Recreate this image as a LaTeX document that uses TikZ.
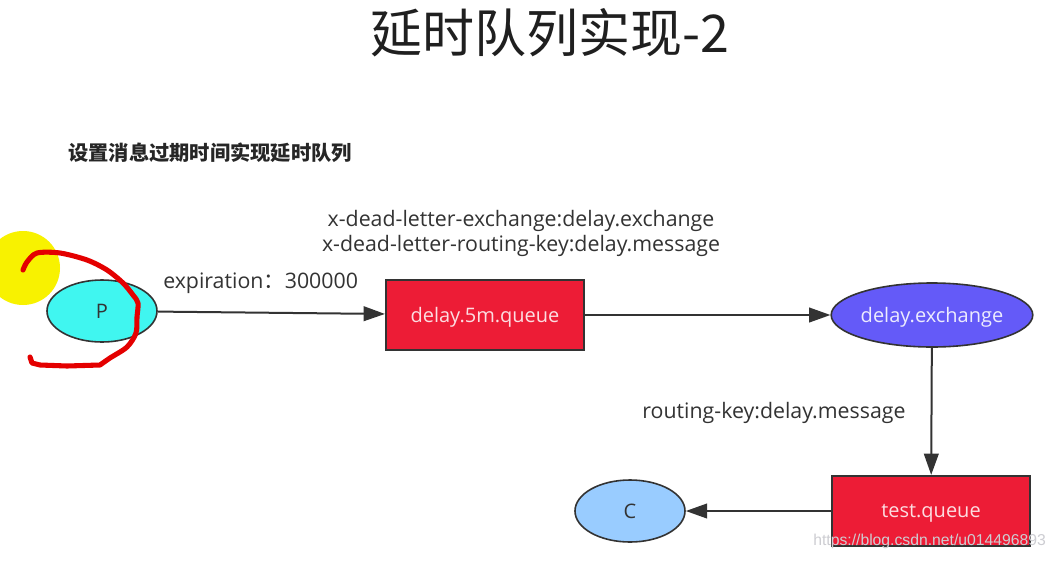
\documentclass[tikz,border=0pt]{standalone}
\usepackage{fontspec}
\setmainfont{Open Sans}
\newfontfamily\cjk{Noto Sans CJK SC}
\newfontfamily\wmfont{Liberation Sans}
\usetikzlibrary{shapes.geometric,arrows.meta}
\definecolor{qred}{RGB}{237,28,54}
\definecolor{exblue}{RGB}{100,90,248}
\definecolor{pcyan}{RGB}{64,246,240}
\definecolor{cblue}{RGB}{153,204,255}
\definecolor{edge}{RGB}{51,51,51}
\definecolor{txt}{RGB}{51,51,51}
\definecolor{hlyellow}{RGB}{248,242,0}
\definecolor{pen}{RGB}{228,0,0}
\definecolor{wm}{RGB}{205,205,210}
\tikzset{
  queuebox/.style={draw=edge, line width=1.6pt, fill=qred, rectangle,
    minimum width=148.5pt, minimum height=52.5pt, inner sep=0pt, text depth=0pt,
    text=white!85!qred, font=\fontsize{15}{18}\selectfont},
  ellnode/.style={draw=edge, line width=1.2pt, ellipse, inner sep=0pt, text depth=0pt,
    font=\fontsize{15}{18}\selectfont},
  lbl/.style={text=txt, inner sep=0pt, text depth=0pt, font=\fontsize{16}{19}\selectfont},
  conn/.style={draw=edge, line width=1.5pt, -{Triangle[length=16pt,width=11pt]}}
}
\begin{document}
\begin{tikzpicture}[x=0.75pt,y=-0.75pt]
\useasboundingbox (0,0) rectangle (1057,561);
\clip (0,0) rectangle (1057,561);
\fill[white] (0,0) rectangle (1057,561);

% title and subtitle
\node[inner sep=0pt, text=black!88, font=\cjk\fontsize{39}{45}\selectfont] (title) at (550,33) {延时队列实现-2};
\node[anchor=west, inner sep=0pt, text=black!85, font=\cjk\bfseries\fontsize{15.2}{18}\selectfont] (sub) at (68,153) {设置消息过期时间实现延时队列};

% highlight behind P
\fill[hlyellow] (23,268) circle[radius=27.75pt];

% nodes
\node[ellnode, fill=pcyan, minimum width=82.5pt, minimum height=46.5pt, text=txt] (P) at (102,311) {P};
\node[queuebox] (q1) at (485,315) {delay.5m.queue};
\node[ellnode, fill=exblue, minimum width=147pt, minimum height=48pt, text=white!88!exblue] (ex) at (932,315) {delay.exchange};
\node[queuebox] (tq) at (931,511) {test.queue};
\node[ellnode, fill=cblue, minimum width=82.5pt, minimum height=46.5pt, text=txt] (C) at (630,511) {C};

% labels
\node[lbl, anchor=west] (exp) at (163,281) {expiration{\cjk ：}300000};
\node[lbl] (dlx) at (521,218) {x-dead-letter-exchange:delay.exchange};
\node[lbl] (dlk) at (521,243) {x-dead-letter-routing-key:delay.message};
\node[lbl] (rk) at (774,410) {routing-key:delay.message};

% connectors
\draw[conn] (P) -- (q1);
\draw[conn] (q1) -- (ex);
\draw[conn] (ex) -- (tq);
\draw[conn] (tq) -- (C);

% red pen annotation
\draw[pen, line width=3.8pt, line cap=round, line join=round]
  plot[smooth, tension=0.5] coordinates {(23,270) (27,262) (37,253) (60,253) (87,260) (107,270) (123,283) (133,295) (138,303) (137,317) (136,333) (127,347) (110,358) (100,365)}
  -- (67,366) -- (40,365) -- (32,363) -- (30,357);

% watermark
\node[anchor=west, inner sep=0pt, text=wm, font=\wmfont\fontsize{11.8}{14}\selectfont] (wmk) at (813,541) {https://blog.csdn.net/u014496893};
\end{tikzpicture}
\end{document}
